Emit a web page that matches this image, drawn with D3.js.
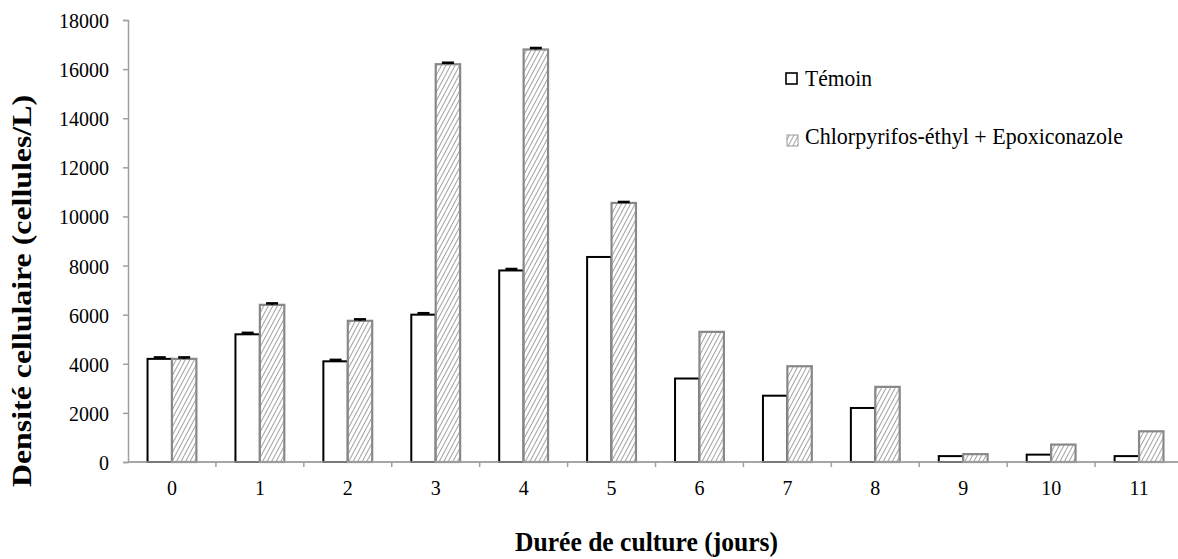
<!DOCTYPE html>
<html><head><meta charset="utf-8">
<script src="https://cdn.jsdelivr.net/npm/d3@7"></script>
<style>body{margin:0;background:#fff}svg{display:block}</style>
</head><body><svg id="c" width="1178" height="559"></svg>
<script>
const days = ["0","1","2","3","4","5","6","7","8","9","10","11"];
const seriesNames = ["Témoin","Chlorpyrifos-éthyl + Epoxiconazole"];
const temoin = [4200,5200,4100,6000,7800,8350,3400,2700,2200,240,300,240];
const traite = [4200,6400,5750,16200,16800,10550,5300,3900,3060,320,710,1250];
const errTemoin = [60,60,60,60,60,0,0,0,0,0,0,0];
const errTraite = [60,60,60,60,60,40,0,0,0,0,0,0];
const yTicks = [0,2000,4000,6000,8000,10000,12000,14000,16000,18000];

const FONT = '"Liberation Serif","Times New Roman",serif';
// the reference is slightly stretched vertically: glyphs taller than wide
function squeeze(sel, ratio){
  sel.each(function(){
    const w = this.getComputedTextLength();
    d3.select(this).attr("textLength", w*ratio).attr("lengthAdjust","spacingAndGlyphs");
  });
}
function fitTo(sel, len){ sel.attr("textLength", len).attr("lengthAdjust","spacingAndGlyphs"); }

const svg = d3.select("#c");
const x0 = 128, x1 = 1183, yTop = 20, yBot = 462;
const x = d3.scaleBand().domain(days).range([x0,x1]).paddingInner(0).paddingOuter(0);
const y = d3.scaleLinear().domain([0,18000]).range([yBot,yTop]);
const sub = d3.scaleBand().domain([0,1]).range([0, x.bandwidth()]).paddingOuter(0.8).paddingInner(0);

const defs = svg.append("defs");
const pat = defs.append("pattern").attr("id","hatch").attr("patternUnits","userSpaceOnUse")
  .attr("width",4).attr("height",4).attr("patternTransform","rotate(28)");
pat.append("rect").attr("width",4).attr("height",4).attr("fill","#fff");
pat.append("line").attr("x1",0).attr("y1",0).attr("x2",0).attr("y2",4).attr("stroke","#8a8a8a").attr("stroke-width",1.6);

// y axis
const ya = svg.append("g").attr("transform",`translate(${x0},0)`)
  .call(d3.axisLeft(y).tickValues(yTicks).tickSize(5).tickPadding(14).tickFormat(d3.format("d")));
ya.attr("font-family",FONT).attr("font-size",22);
ya.select(".domain").attr("stroke","#a0a0a0").attr("stroke-width",1.5);
ya.selectAll(".tick line").attr("stroke","#a0a0a0").attr("stroke-width",1.5);
ya.selectAll("text").attr("fill","#000").attr("dy","0.34em");
squeeze(ya.selectAll("text"), 20/22);

// x axis
const xa = svg.append("g").attr("transform",`translate(0,${yBot})`).attr("font-family",FONT);
xa.append("line").attr("x1",x0).attr("x2",x1).attr("stroke","#a0a0a0").attr("stroke-width",1.5);
xa.selectAll(".t").data(days.slice(1)).join("line")
  .attr("x1",d=>x(d)).attr("x2",d=>x(d)).attr("y1",0).attr("y2",5).attr("stroke","#a0a0a0").attr("stroke-width",1.5);
const xl = xa.selectAll("text").data(days).join("text")
  .attr("x",d=>x(d)+x.bandwidth()/2).attr("y",33).attr("text-anchor","middle")
  .attr("font-size",22).text(d=>d);
squeeze(xl, 20/22);

// bars
const bw = sub.bandwidth();
const g = svg.append("g");
g.selectAll(".b0").data(days).join("rect")
  .attr("x",(d)=>x(d)+sub(0)).attr("width",bw)
  .attr("y",(d,i)=>y(temoin[i])).attr("height",(d,i)=>yBot-y(temoin[i]))
  .attr("fill","#fff").attr("stroke","#000").attr("stroke-width",2);
g.selectAll(".b1").data(days).join("rect")
  .attr("x",(d)=>x(d)+sub(1)).attr("width",bw)
  .attr("y",(d,i)=>y(traite[i])).attr("height",(d,i)=>yBot-y(traite[i]))
  .attr("fill","url(#hatch)").attr("stroke","#888").attr("stroke-width",2.2);
svg.append("line").attr("x1",x0).attr("x2",x1).attr("y1",yBot).attr("y2",yBot).attr("stroke","#a0a0a0").attr("stroke-width",1.5);

// error bars (plus direction only)
function errs(vals, errsArr, k){
  days.forEach((d,i)=>{
    if(!errsArr[i]) return;
    const cx = x(d)+sub(k)+bw/2;
    const eg = svg.append("g").attr("stroke","#000").attr("stroke-width",2.5);
    eg.append("line").attr("x1",cx).attr("x2",cx).attr("y1",y(vals[i]+errsArr[i])).attr("y2",y(vals[i]));
    eg.append("line").attr("x1",cx-6).attr("x2",cx+6).attr("y1",y(vals[i]+errsArr[i])).attr("y2",y(vals[i]+errsArr[i]));
  });
}
errs(temoin, errTemoin, 0);
errs(traite, errTraite, 1);

// legend
const lg = svg.append("g").attr("font-family",FONT);
lg.append("rect").attr("x",786).attr("y",73).attr("width",11).attr("height",11).attr("fill","#fff").attr("stroke","#000").attr("stroke-width",1.6);
fitTo(lg.append("text").attr("x",805).attr("y",86).attr("font-size",23.5).text(seriesNames[0]), 67);
lg.append("rect").attr("x",787).attr("y",135).attr("width",11).attr("height",11).attr("fill","url(#hatch)").attr("stroke","#999").attr("stroke-width",1);
fitTo(lg.append("text").attr("x",805).attr("y",144).attr("font-size",23).text(seriesNames[1]), 318);

// titles
fitTo(svg.append("text").attr("x",515).attr("y",551).attr("font-family",FONT).attr("font-size",27).attr("font-weight","bold").text("Durée de culture (jours)"), 263);
fitTo(svg.append("text").attr("transform","translate(31,487) rotate(-90)").attr("font-family",FONT).attr("font-size",27.5).attr("font-weight","bold").text("Densité cellulaire (cellules/L)"), 392);
</script></body></html>
